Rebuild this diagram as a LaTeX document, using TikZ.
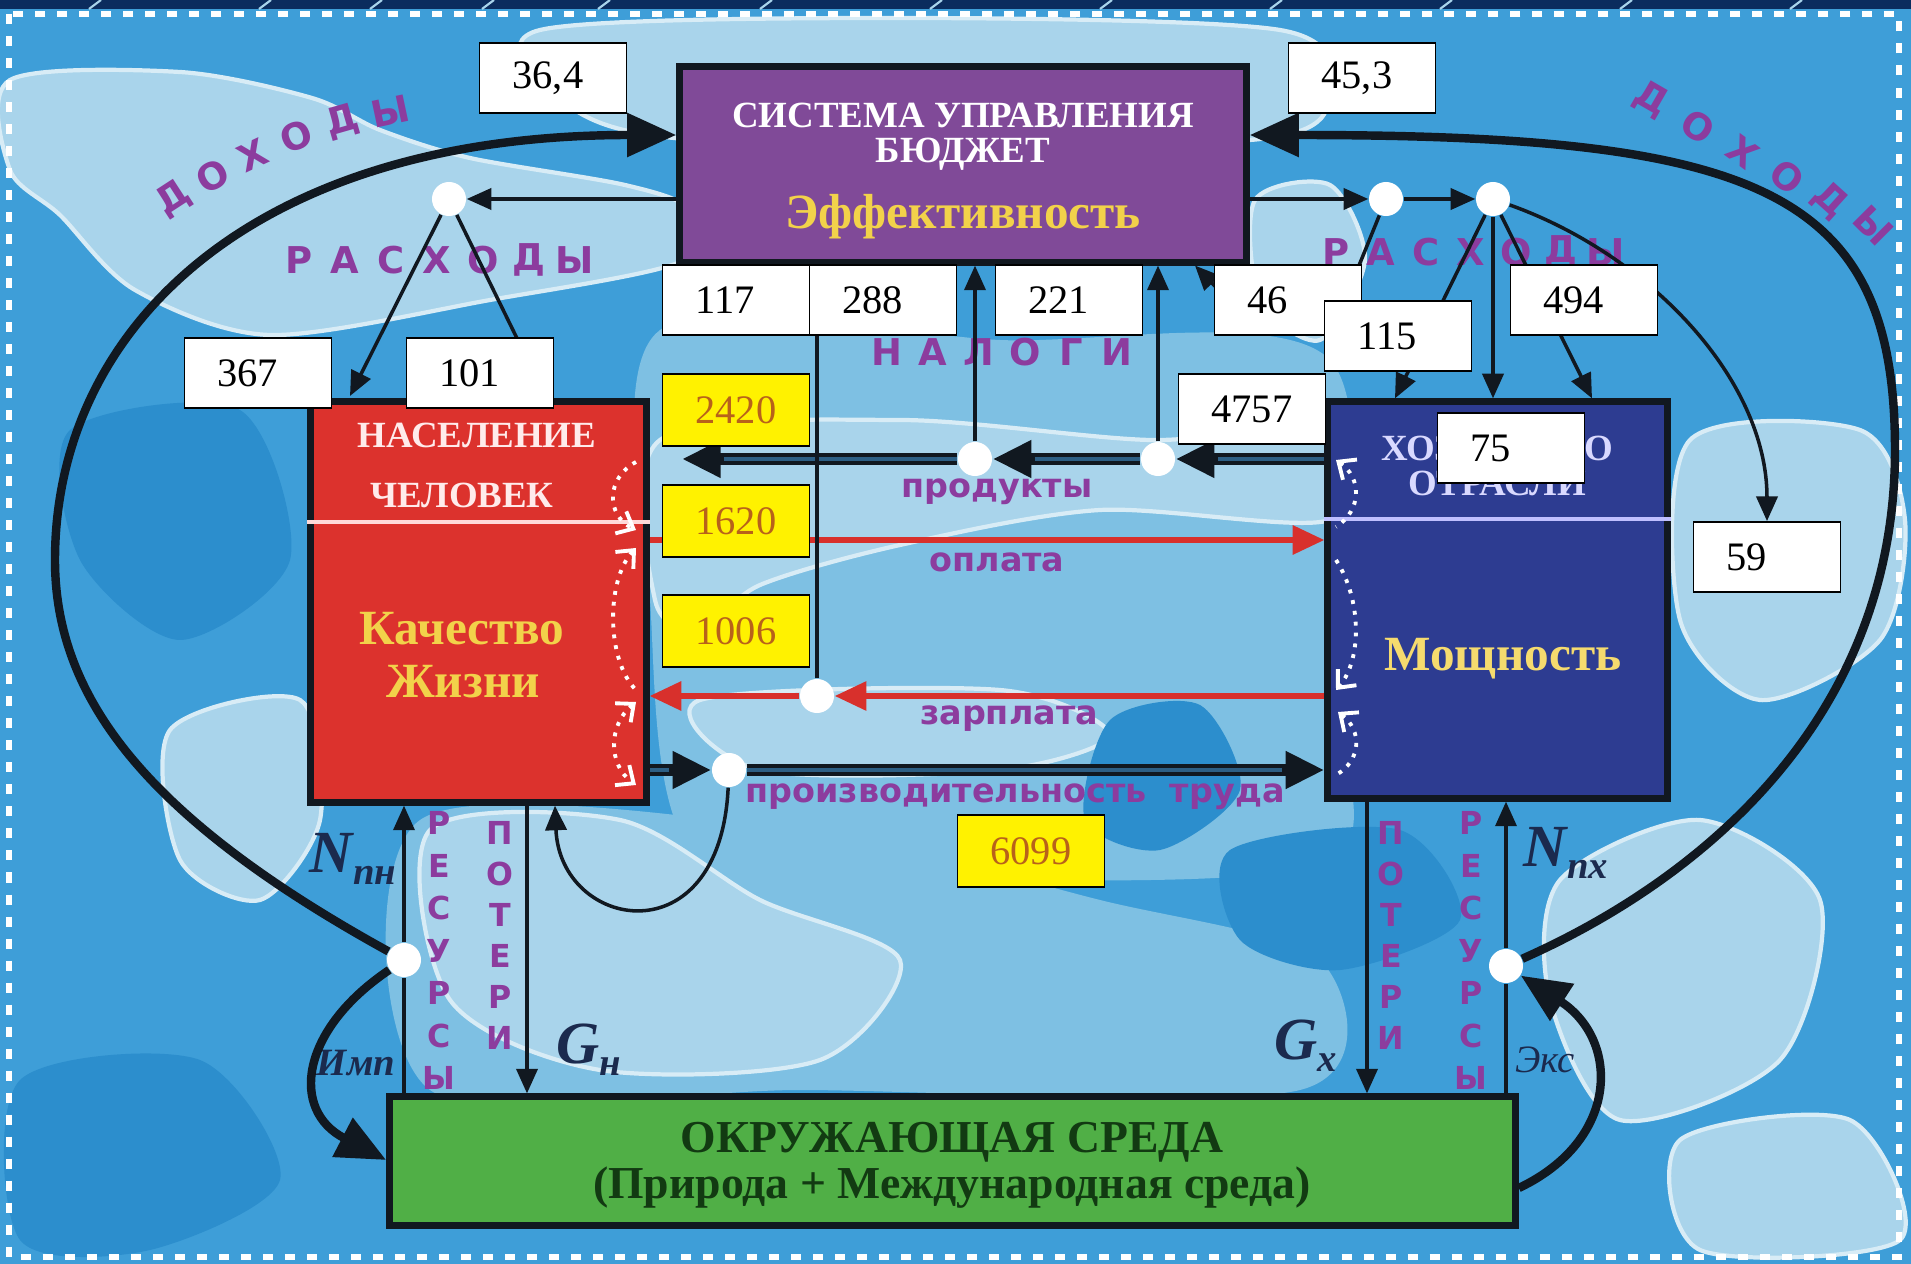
\documentclass[tikz,border=0pt]{standalone}
\usepackage{fontspec}
\setmainfont{Liberation Serif}
\newfontfamily\labelfont{DejaVu Sans}
\usetikzlibrary{arrows.meta,positioning}

\definecolor{seabase}{HTML}{3E9ED8}
\definecolor{seapale}{HTML}{A9D4EB}
\definecolor{sealight}{HTML}{7EC0E3}
\definecolor{seadeep}{HTML}{2C8ECD}
\definecolor{navystrip}{HTML}{0B2C5E}
\definecolor{budget}{HTML}{804A98}
\definecolor{people}{HTML}{DC322D}
\definecolor{industry}{HTML}{2D3C91}
\definecolor{nature}{HTML}{50AF46}
\definecolor{linec}{HTML}{111820}
\definecolor{redline}{HTML}{D8302C}
\definecolor{lilac}{HTML}{8C3C9E}
\definecolor{ink}{HTML}{1B2A4E}
\definecolor{gold}{HTML}{F2D24A}
\definecolor{amber}{HTML}{B8621A}
\definecolor{deepgreen}{HTML}{123A12}
\definecolor{flowcore}{HTML}{2D5F85}

\pgfdeclarelayer{water}
\pgfdeclarelayer{letters}
\pgfdeclarelayer{wires}
\pgfsetlayers{water,letters,wires,main}

\tikzset{
  mainbox/.style={draw=linec, line width=2pt, inner sep=0pt},
  boxhead/.style={text=white, font=\bfseries\fontsize{10.5}{11}\selectfont},
  boxmotto/.style={text=gold, font=\bfseries\fontsize{14}{15}\selectfont},
  numbox/.style={draw=black, fill=white, line width=0.5pt, minimum height=0.70cm,
    text width=0.81cm, inner xsep=0.33cm, inner ysep=0pt, align=left,
    font=\fontsize{11.5}{12}\selectfont},
  valbox/.style={numbox, fill=yellow, text=amber, minimum height=0.72cm},
  junction/.style={circle, fill=white, minimum size=0.34cm, inner sep=0pt},
  conn/.style={draw=linec, line width=1pt, -{Triangle[length=7pt,width=6pt]}},
  plainline/.style={draw=linec, line width=1pt},
  bigflow/.style={draw=linec, line width=2.4pt, -{Triangle[length=14pt,width=12pt]}},
  dblflow/.style={draw=linec, line width=3.4pt, -{Triangle[length=11pt,width=10pt]}},
  corelin/.style={draw=flowcore, line width=0.9pt},
  redflow/.style={draw=redline, line width=1.6pt, -{Triangle[length=9pt,width=8pt]}},
  loopback/.style={draw=white, line width=1.1pt, dotted},
  spaced/.style={text=lilac, inner sep=0.5pt, font=\labelfont\bfseries\fontsize{10.5}{11}\selectfont},
  stacked/.style={text=lilac, inner sep=0.5pt, font=\labelfont\bfseries\fontsize{9}{9}\selectfont},
  flowlabel/.style={text=lilac, font=\labelfont\bfseries\fontsize{9.5}{10}\selectfont},
  symb/.style={text=ink, font=\bfseries\itshape\fontsize{17}{17}\selectfont},
  puddle/.style={fill=seapale, draw=white!55!seapale, line width=1.2pt},
}
\newcommand{\idx}[2]{#1\raisebox{-0.45ex}{\fontsize{11}{11}\selectfont #2}}

\begin{document}
\begin{tikzpicture}[x=0.01cm, y=-0.01cm]
  \useasboundingbox (0,0) rectangle (1911,1264);

  % water background
  \begin{pgfonlayer}{water}
    \fill[seabase] (0,0) rectangle (1911,1264);
    \fill[sealight] plot[smooth cycle] coordinates {(660,330) (1000,340) (1330,360) (1340,700) (1330,860) (1000,880) (700,860) (650,600)};
    \fill[sealight] plot[smooth cycle] coordinates {(420,820) (800,830) (1100,900) (1320,960) (1300,1090) (800,1090) (430,1090)};
    \filldraw[puddle] plot[smooth cycle] coordinates {(10,80) (180,72) (312,98) (380,130) (470,158) (625,185) (690,210) (680,262) (490,300) (270,335) (135,290) (60,215) (10,170)};
    \filldraw[puddle] plot[smooth cycle] coordinates {(540,30) (900,18) (1280,30) (1330,90) (1250,140) (700,140) (560,100)};
    \filldraw[puddle] plot[smooth cycle] coordinates {(1255,200) (1330,185) (1365,260) (1320,340) (1260,300)};
    \filldraw[puddle] plot[smooth cycle] coordinates {(660,440) (900,420) (1150,440) (1330,430) (1330,520) (1100,510) (900,545) (760,585) (700,630) (655,600)};
    \filldraw[puddle] plot[smooth cycle] coordinates {(700,700) (1000,690) (1110,735) (1000,770) (760,770)};
    \filldraw[puddle] plot[smooth cycle] coordinates {(430,830) (620,820) (760,900) (900,960) (820,1060) (600,1070) (450,1000)};
    \filldraw[puddle] plot[smooth cycle] coordinates {(170,730) (300,700) (320,820) (260,900) (180,860)};
    \filldraw[puddle] plot[smooth cycle] coordinates {(1690,440) (1860,430) (1905,520) (1880,640) (1760,700) (1680,620)};
    \filldraw[puddle] plot[smooth cycle] coordinates {(1560,880) (1700,820) (1820,900) (1780,1060) (1620,1120) (1550,1000)};
    \filldraw[puddle] plot[smooth cycle] coordinates {(1680,1140) (1850,1120) (1900,1240) (1700,1250)};
    \fill[seadeep] plot[smooth cycle] coordinates {(1110,720) (1200,705) (1240,790) (1160,850) (1085,820)};
    \fill[seadeep] plot[smooth cycle] coordinates {(1230,850) (1400,830) (1460,920) (1340,970) (1240,940)};
    \fill[seadeep] plot[smooth cycle] coordinates {(20,1080) (200,1060) (280,1180) (150,1250) (20,1240)};
    \fill[seadeep] plot[smooth cycle] coordinates {(70,430) (240,410) (290,560) (180,640) (80,560)};
    \fill[navystrip] (0,0) rectangle (1911,9);
    \foreach \sx in {89,259,370,482,598,760,930,1100,1270,1440,1620,1790}
      \draw[seapale, line width=0.6pt] (\sx,9) -- (\sx+12,0);
    \draw[white, line width=1.8pt, dash pattern=on 0.1cm off 0.12cm] (9,14) rectangle (1899,1257);
  \end{pgfonlayer}

  % main blocks
  \node[mainbox, fill=budget, minimum width=5.66cm, minimum height=1.95cm] (sys) at (963,164.5) {};
  \node[mainbox, fill=people, minimum width=3.35cm, minimum height=4.00cm] (pop) at (478.5,602) {};
  \node[mainbox, fill=industry, minimum width=3.39cm, minimum height=3.96cm] (ind) at (1497.5,600) {};
  \node[mainbox, fill=nature, minimum width=11.25cm, minimum height=1.28cm] (env) at (952.5,1161) {};

  \node[boxhead] (sysA) at (963,115) {СИСТЕМА УПРАВЛЕНИЯ};
  \node[boxhead] (sysB) at (963,154) {БЮДЖЕТ};
  \node[boxmotto] (sysC) at (963,217) {Эффективность};

  \node[boxhead, text=white!92!red] (popA) at (477,435) {НАСЕЛЕНИЕ};
  \node[boxhead, text=white!92!red] (popB) at (462,495) {ЧЕЛОВЕК};
  \draw[white!85!red, line width=1.2pt] (pop.west |- 0,522) -- (pop.east |- 0,522);
  \node[boxmotto] (popC) at (462,629) {Качество};
  \node[boxmotto] (popD) at (463,682) {Жизни};

  \node[boxhead, text=white!85!blue] (indA) at (1497,445) {ХОЗЯЙСТВО};
  \node[boxhead, text=white!85!blue] (indB) at (1497,483) {ОТРАСЛИ};
  \draw[white!75!blue, line width=1.2pt] (ind.west |- 0,519) -- (ind.east |- 0,519);
  \node[boxmotto, text=gold!80!white] (indC) at (1503,659) {Мощность};

  \node[text=deepgreen, font=\bfseries\fontsize{13}{14}\selectfont] (envA) at (952,1142) {ОКРУЖАЮЩАЯ СРЕДА};
  \node[text=deepgreen, font=\bfseries\fontsize{13}{14}\selectfont] (envB) at (952,1188) {(Природа + Международная среда)};

  % spaced words
  \begin{pgfonlayer}{letters}
    \foreach \ch/\px/\py/\rot in {Д/174/199/33, О/213/176/29, Х/253/155/25, О/296/136/21, Д/342/122/16, Ы/390/111/12}
      \node[spaced, rotate=\rot] at (\px,\py) {\ch};
    \foreach \ch/\px/\py/\rot in {Д/1651/100/-30, О/1698/127/-33, Х/1743/152/-36, О/1787/177/-39, Д/1830/201/-42, Ы/1874/226/-45}
      \node[spaced, rotate=\rot] at (\px,\py) {\ch};
    \foreach \ch [count=\i from 0] in {Р,А,С,Х,О,Д,Ы}
      \node[spaced] at (299+46*\i,260) {\ch};
    \foreach \ch [count=\i from 0] in {Р,А,С,Х,О,Д,Ы}
      \node[spaced] at (1336+45*\i,252) {\ch};
    \foreach \ch [count=\i from 0] in {Н,А,Л,О,Г,И}
      \node[spaced] at (887+46*\i,352) {\ch};
    \foreach \ch [count=\i from 0] in {Р,Е,С,У,Р,С,Ы}
      {\node[stacked] at (439,823+42.5*\i) {\ch};
       \node[stacked] at (1471,823+42.5*\i) {\ch};}
    \foreach \ch [count=\i from 0] in {П,О,Т,Е,Р,И}
      {\node[stacked] at (500,833+41*\i) {\ch};
       \node[stacked] at (1391,833+41*\i) {\ch};}
    \node[flowlabel] (lblProd) at (997,492) {продукты};
    \node[flowlabel] (lblPay) at (997,562) {оплата};
    \node[flowlabel] (lblWage) at (1009,719) {зарплата};
    \node[flowlabel] (lblLab) at (1015,797) {производительность\ \ труда};
    \node[symb] (lblNp) at (353,859) {\idx{N}{пн}};
    \node[symb] (lblGp) at (589,1050) {\idx{G}{н}};
    \node[symb] (lblGi) at (1306,1046) {\idx{G}{х}};
    \node[symb] (lblNi) at (1566,853) {\idx{N}{пх}};
    \node[text=ink, font=\bfseries\itshape\fontsize{11}{11}\selectfont] (lblImp) at (356,1063) {Имп};
    \node[text=ink, font=\itshape\fontsize{11}{11}\selectfont] (lblExp) at (1545,1060) {Экс};
  \end{pgfonlayer}

  % figures
  \node[numbox] (b364) at (553,78) {36,4};
  \node[numbox] (b453) at (1362,78) {45,3};
  \node[numbox] (b367) at (258,373) {367};
  \node[numbox] (b101) at (480,373) {101};
  \node[numbox] (b117) at (736,300) {117};
  \node[numbox] (b288) at (883,300) {288};
  \node[numbox] (b221) at (1069,300) {221};
  \node[numbox] (b46) at (1288,300) {46};
  \node[numbox] (b115) at (1398,336) {115};
  \node[numbox] (b494) at (1584,300) {494};
  \node[numbox] (b4757) at (1252,409) {4757};
  \node[numbox] (b75) at (1511,448) {75};
  \node[numbox] (b59) at (1767,557) {59};
  \node[valbox] (b2420) at (736,410) {2420};
  \node[valbox] (b1620) at (736,521) {1620};
  \node[valbox] (b1006) at (736,631) {1006};
  \node[valbox] (b6099) at (1031,851) {6099};

  % junctions
  \node[junction] (dL) at (449,199) {};
  \node[junction] (dR1) at (1386,199) {};
  \node[junction] (dR2) at (1493,199) {};
  \node[junction] (dT1) at (975,459) {};
  \node[junction] (dT2) at (1158,459) {};
  \node[junction] (dW) at (817,696) {};
  \node[junction] (dP) at (729,770) {};
  \node[junction] (dImp) at (404,960) {};
  \node[junction] (dExp) at (1506,966) {};

  \coordinate (popIn) at (350,396);
  \coordinate (c101) at (530,365);
  \coordinate (c46) at (1345,300);
  \coordinate (taxIn) at (1240,312);
  \coordinate (prodEnd) at (682,459);

  % white feedback loops
  \draw[loopback, -{Straight Barb[length=4pt,width=7pt]}] (636,462) .. controls (606,478) and (606,515) .. (636,530);
  \draw[loopback, {Straight Barb[length=4pt,width=7pt]}-] (636,548) .. controls (606,580) and (606,660) .. (636,690);
  \draw[loopback, {Straight Barb[length=4pt,width=7pt]}-{Straight Barb[length=4pt,width=7pt]}] (636,702) .. controls (608,725) and (608,765) .. (636,785);
  \draw[loopback, {Straight Barb[length=4pt,width=7pt]}-] (1336,460) .. controls (1362,478) and (1362,510) .. (1336,527);
  \draw[loopback, -{Straight Barb[length=4pt,width=7pt]}] (1336,560) .. controls (1362,600) and (1362,660) .. (1336,690);
  \draw[loopback, {Straight Barb[length=4pt,width=7pt]}-] (1338,712) .. controls (1362,730) and (1362,760) .. (1336,775);

  \begin{pgfonlayer}{wires}
    % incomes
    \draw[bigflow] (dImp) .. controls (150,820) and (55,700) .. (55,560) .. controls (55,330) and (250,135) .. (sys.west |- 0,135);
    \draw[bigflow] (dExp) .. controls (1700,880) and (1895,720) .. (1895,450) .. controls (1895,190) and (1760,135) .. (sys.east |- 0,135);
    % expenses
    \draw[conn] (sys.west |- dL) -- (dL);
    \draw[conn] (dL) -- (popIn);
    \draw[plainline] (dL) -- (c101);
    \draw[conn] (sys.east |- dR1) -- (dR1);
    \draw[conn] (dR1) -- (dR2);
    \draw[plainline] (dR1) -- (c46);
    \draw[conn] (taxIn) -- (sys.south -| 1195,0);
    \draw[conn] (dR2) -- (ind.north -| 1395,0);
    \draw[conn] (dR2) -- (ind.north -| dR2);
    \draw[conn] (dR2) -- (ind.north -| 1592,0);
    \draw[conn] (dR2) .. controls (1650,255) and (1767,380) .. (b59.north);
    % taxes
    \draw[conn] (dT1) -- (sys.south -| dT1);
    \draw[conn] (dT2) -- (sys.south -| dT2);
    % goods
    \draw[dblflow] (ind.west |- dT2) -- (dT2);
    \draw[dblflow] (dT2) -- (dT1);
    \draw[dblflow] (dT1) -- (prodEnd);
    \draw[corelin, shorten >=12pt] (ind.west |- dT2) -- (dT2);
    \draw[corelin, shorten >=12pt] (dT2) -- (dT1);
    \draw[corelin, shorten >=12pt] (dT1) -- (prodEnd);
    % payment and wages
    \draw[redflow] (pop.east |- 0,540) -- (ind.west |- 0,540);
    \draw[redflow] (ind.west |- dW) -- (dW);
    \draw[redflow] (dW) -- (pop.east |- dW);
    \draw[plainline] (dW) -- (b288.south -| dW);
    % labour
    \draw[dblflow] (pop.east |- dP) -- (dP);
    \draw[dblflow] (dP) -- (ind.west |- dP);
    \draw[corelin, shorten >=12pt] (pop.east |- dP) -- (dP);
    \draw[corelin, shorten >=12pt] (dP) -- (ind.west |- dP);
    \draw[conn] (dP) .. controls (720,960) and (560,930) .. (pop.south -| 555,0);
    % resources and losses
    \draw[plainline] (env.north -| dImp) -- (dImp);
    \draw[conn] (dImp) -- (pop.south -| dImp);
    \draw[conn] (pop.south -| 527,0) -- (env.north -| 527,0);
    \draw[conn] (ind.south -| 1367,0) -- (env.north -| 1367,0);
    \draw[plainline] (env.north -| dExp) -- (dExp);
    \draw[conn] (dExp) -- (ind.south -| dExp);
    % import and export
    \draw[bigflow] (dImp) .. controls (300,1030) and (290,1110) .. (env.west |- 0,1160);
    \draw[bigflow] (env.east |- 0,1188) .. controls (1620,1140) and (1620,1040) .. (dExp);
  \end{pgfonlayer}
\end{tikzpicture}
\end{document}
